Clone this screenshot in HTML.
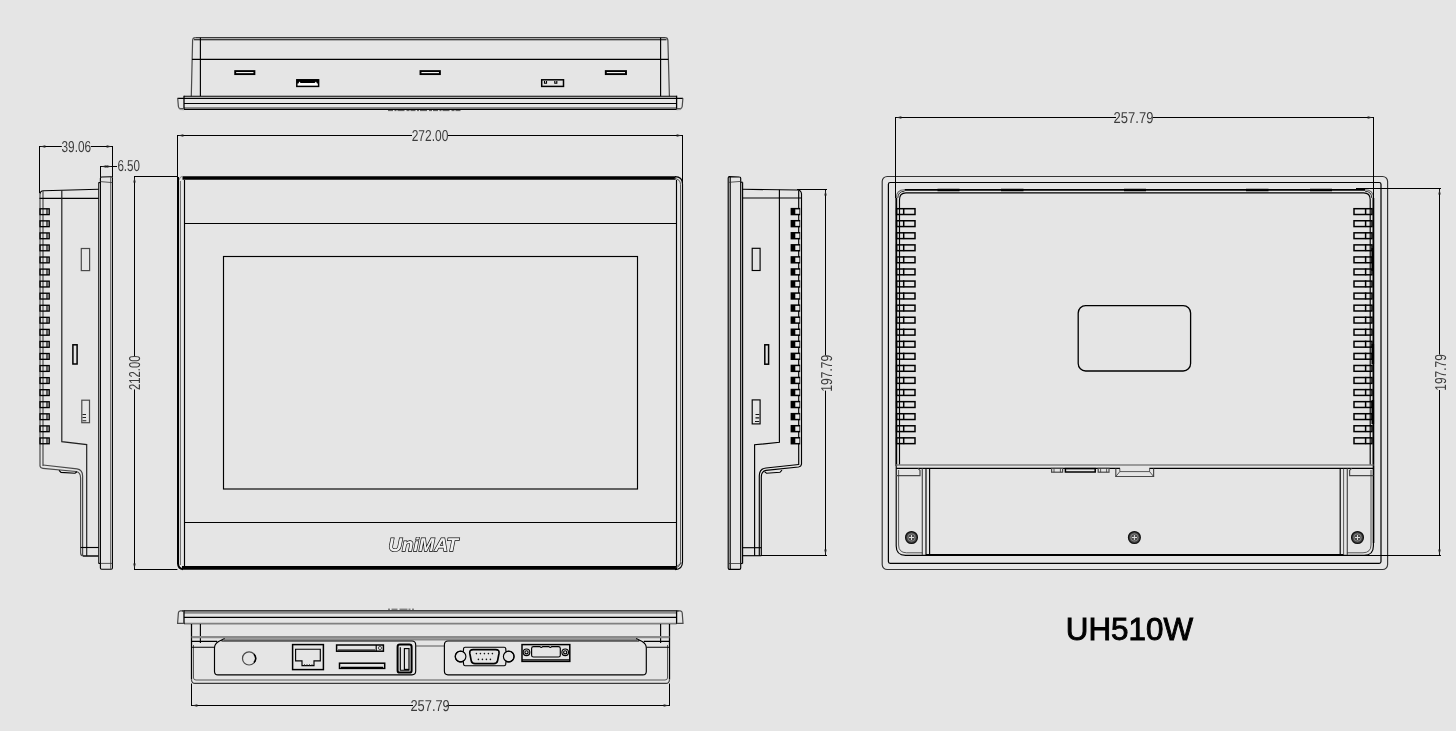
<!DOCTYPE html>
<html><head><meta charset="utf-8"><title>UH510W</title>
<style>
html,body{margin:0;padding:0;background:#e5e5e5;}
body{width:1456px;height:731px;overflow:hidden;font-family:"Liberation Sans",sans-serif;}
svg{display:block;position:absolute;left:0;top:0;will-change:transform;}
.k{stroke:#000;stroke-width:1.15;fill:none;}
.t{stroke:#333;stroke-width:0.8;fill:none;}
.g{stroke:#4a4a4a;stroke-width:1.2;fill:none;}
.b{stroke:#000;stroke-width:1.5;fill:none;}
.bb{stroke:#000;stroke-width:2;fill:none;}
.d{stroke:#000;stroke-width:1;fill:none;}
.dt{font-family:"Liberation Sans",sans-serif;font-size:15.8px;fill:#3c3c3c;text-rendering:geometricPrecision;}
.ar{fill:#222;stroke:none;}
</style></head><body>
<svg width="1456" height="731" viewBox="0 0 1456 731">
<rect x="0" y="0" width="1456" height="731" fill="#e5e5e5"/>

<g id="topview">
<path d="M191.3 96.2 L192.6 40.5 Q192.7 37.7 195.5 37.7" class="g"/><path d="M665 37.7 Q667.8 37.7 667.9 40.5 L669.4 96.2" class="g"/><line x1="195.5" y1="37.7" x2="665" y2="37.7" class="k"/>
<line x1="194" y1="39.7" x2="666.5" y2="39.7" class="k"/>
<line x1="200.4" y1="37.7" x2="200.4" y2="96.2" class="k"/>
<line x1="660.6" y1="37.7" x2="660.6" y2="96.2" class="k"/>
<line x1="192" y1="59.3" x2="668.4" y2="59.3" class="k"/>
<line x1="184" y1="96.2" x2="676.6" y2="96.2" class="k"/>
<line x1="177.5" y1="98.3" x2="683" y2="98.3" class="k"/>
<line x1="184" y1="103.45" x2="676.6" y2="103.45" class="k"/>
<line x1="184" y1="107.8" x2="676.6" y2="107.8" stroke="#8a8a8a" stroke-width="1.7"/>
<line x1="183" y1="109.3" x2="677.6" y2="109.3" class="k" style="stroke-width:1.3"/>
<line x1="184" y1="95.7" x2="184" y2="109.8" class="k" style="stroke-width:1.3"/>
<line x1="676.6" y1="95.7" x2="676.6" y2="109.8" class="k" style="stroke-width:1.3"/>
<path d="M177.7 98.3 L178.4 106.5 Q178.6 108.5 180.6 108.6 L184 108.7" class="g"/>
<path d="M682.9 98.3 L682.2 106.5 Q682 108.5 680 108.6 L676.6 108.7" class="g"/>
<path d="M179.5 109.3 L184 109.6 M681.1 109.3 L676.6 109.6" stroke="#999" stroke-width="1.2"/>
<line x1="388" y1="110.6" x2="462" y2="110.6" stroke="#444" stroke-width="0.9" stroke-dasharray="5 1.5 2 1 7 2 3 1"/>
<rect x="235.2" y="71.1" width="19.2" height="3" class="b" style="stroke-width:1.9;fill:#fff"/>
<rect x="420.5" y="71.1" width="19.4" height="3" class="b" style="stroke-width:1.9;fill:#fff"/>
<rect x="605.8" y="71.1" width="20.2" height="3" class="b" style="stroke-width:1.9;fill:#fff"/>
<rect x="296.8" y="79.8" width="21.8" height="6.6" class="b" style="fill:#fff"/>
<path d="M297 79.6 H318.4 V83.4 L317 83.4 L316 81.6 L314.6 83 L300.6 83 L299.4 81.6 L298.4 83.4 L297 83.4 Z" fill="#000"/>
<rect x="541.7" y="79.8" width="21.8" height="6.6" class="b"/>
<path d="M544.5 81 v2.2 h2 v-2.2 M554.8 81 v2.2 h2 v-2.2" class="k"/>
</g>

<g id="dim272">
<line x1="177.5" y1="135" x2="177.5" y2="177" class="d"/>
<line x1="682.5" y1="135" x2="682.5" y2="183" class="d"/>
<line x1="177.5" y1="135.5" x2="412" y2="135.5" class="d"/>
<line x1="448" y1="135.5" x2="682.5" y2="135.5" class="d"/>
<path d="M177.9 135.5 l5.5 -1.2 v2.4z" class="ar"/>
<path d="M682.1 135.5 l-5.5 -1.2 v2.4z" class="ar"/>
<text x="430" y="141.2" class="dt" text-anchor="middle" textLength="36.6" lengthAdjust="spacingAndGlyphs">272.00</text>
</g>

<g id="front">
<line x1="184.5" y1="180" x2="184.5" y2="566" class="k"/>
<line x1="184.5" y1="223.5" x2="676.5" y2="223.5" class="k"/>
<line x1="184.5" y1="522.5" x2="676.5" y2="522.5" class="k"/>
<rect x="223.5" y="256.5" width="414" height="232.5" class="k"/>
<line x1="182.5" y1="178" x2="675.5" y2="178" stroke="#000" stroke-width="3.6"/>
<path d="M178.6 180.5 L180.6 177 L183 176.3" stroke="#888" stroke-width="1" fill="none"/>
<line x1="182" y1="567.9" x2="677" y2="567.9" stroke="#000" stroke-width="3.8"/>
<path d="M178 177 L178 563.5 Q178.2 568.6 183 569.2" stroke="#000" stroke-width="2" fill="none"/>
<line x1="180.4" y1="181" x2="180.4" y2="565" stroke="#444" stroke-width="0.8"/>
<path d="M675 176.6 Q682.5 176.6 682.5 184 L682.5 562 Q682.5 569.4 675 569.6" class="k"/>
<path d="M674 178.6 Q680.5 178.8 680.5 184.5 L680.5 561.5 Q680.5 567 675.5 567.6" class="t"/>
<line x1="676.5" y1="180" x2="676.5" y2="566" class="k"/>
<path d="M676.6 566.5 L681.8 562.8" class="t"/>
<text x="423.3" y="550.8" text-anchor="middle" textLength="69.6" lengthAdjust="spacingAndGlyphs" style="font-family:'Liberation Sans',sans-serif;font-weight:bold;font-style:italic;font-size:18.6px;fill:#f0f0f0;stroke:#000;stroke-width:1.3;paint-order:stroke fill;text-rendering:geometricPrecision;">UniMAT</text>
</g>

<g id="dim212">
<line x1="134" y1="176.5" x2="177.4" y2="176.5" class="d"/>
<line x1="134" y1="569.5" x2="177.4" y2="569.5" class="d"/>
<line x1="134.5" y1="176.5" x2="134.5" y2="356.5" class="d"/>
<line x1="134.5" y1="389.4" x2="134.5" y2="569.5" class="d"/>
<path d="M134.5 176.9 l-1.2 5.5 h2.4z" class="ar"/>
<path d="M134.5 569.1 l-1.2 -5.5 h2.4z" class="ar"/>
<text transform="translate(139.7 372.8) rotate(-90)" class="dt" text-anchor="middle" textLength="34.6" lengthAdjust="spacingAndGlyphs">212.00</text>
</g>

<g id="leftside">
<!-- flange -->
<path d="M100.4 563.4 L100.4 178.2 Q100.4 177 101.6 177 L111.2 176.8 Q112.4 176.8 112.4 178 L112.4 568 Q112.4 569.2 111.2 569.2 L101.6 569.2 Q100.4 569.2 100.4 568 Z" class="k"/>
<line x1="110.5" y1="177" x2="110.5" y2="569" class="t" style="stroke:#555"/>
<line x1="100.4" y1="181.6" x2="112.4" y2="182.6" class="t"/>
<line x1="100.4" y1="563.4" x2="112.4" y2="563.4" class="t"/>
<line x1="98.6" y1="182.6" x2="98.6" y2="563.4" class="k" style="stroke:#333"/>
<line x1="98.6" y1="182.6" x2="100.4" y2="182.6" class="k"/>
<line x1="98.6" y1="563.4" x2="100.4" y2="563.4" class="k"/>
<!-- body -->
<path d="M40.0 466 L40.0 194" class="g"/>
<path d="M40.0 194 Q40.2 191 43.5 190.8 L98.6 189.2" class="k"/>
<line x1="43" y1="191" x2="43" y2="466" class="g"/>
<line x1="39.5" y1="198.3" x2="98.6" y2="198.3" class="k"/>
<path d="M61.8 190.2 L61.8 441.6 L86.7 444.6 L86.7 556" class="g" style="stroke:#222"/>
<path d="M40 466 Q40.3 468 43 468.3 L76 471.5 Q80.6 472.2 80.6 478 L80.6 553 Q80.6 556 83.6 556 L98.6 556" class="g"/>
<path d="M43 465 L77 468.8 Q82.6 469.6 82.6 476 L82.6 556" class="g"/>
<line x1="80.6" y1="547.5" x2="98.6" y2="547.5" class="k"/>
<line x1="83" y1="556" x2="98.6" y2="556" class="k"/>
<path d="M59 470.3 L61 472.4 L75 473.2 L77 471.7" class="k"/>
<!-- features -->
<rect x="81.3" y="248.5" width="8.3" height="22.1" class="g"/>
<rect x="72.9" y="344.8" width="4.2" height="19.2" class="b"/>
<rect x="81.8" y="400.2" width="7.7" height="22.5" class="g"/>
<path d="M82.5 414.5 h3.5 M82.5 417.5 h3.5 M82.5 420.8 h3.8" stroke="#222" stroke-width="1.1" fill="none"/>

<rect x="40.0" y="208.80" width="9.2" height="5.8" class="b" style="stroke-width:1.35"/>
<line x1="47.0" y1="208.80" x2="47.0" y2="214.60" class="k"/>
<rect x="40.0" y="220.86" width="9.2" height="5.8" class="b" style="stroke-width:1.35"/>
<line x1="47.0" y1="220.86" x2="47.0" y2="226.66" class="k"/>
<rect x="40.0" y="232.92" width="9.2" height="5.8" class="b" style="stroke-width:1.35"/>
<line x1="47.0" y1="232.92" x2="47.0" y2="238.72" class="k"/>
<rect x="40.0" y="244.98" width="9.2" height="5.8" class="b" style="stroke-width:1.35"/>
<line x1="47.0" y1="244.98" x2="47.0" y2="250.78" class="k"/>
<rect x="40.0" y="257.04" width="9.2" height="5.8" class="b" style="stroke-width:1.35"/>
<line x1="47.0" y1="257.04" x2="47.0" y2="262.84" class="k"/>
<rect x="40.0" y="269.10" width="9.2" height="5.8" class="b" style="stroke-width:1.35"/>
<line x1="47.0" y1="269.10" x2="47.0" y2="274.90" class="k"/>
<rect x="40.0" y="281.16" width="9.2" height="5.8" class="b" style="stroke-width:1.35"/>
<line x1="47.0" y1="281.16" x2="47.0" y2="286.96" class="k"/>
<rect x="40.0" y="293.22" width="9.2" height="5.8" class="b" style="stroke-width:1.35"/>
<line x1="47.0" y1="293.22" x2="47.0" y2="299.02" class="k"/>
<rect x="40.0" y="305.28" width="9.2" height="5.8" class="b" style="stroke-width:1.35"/>
<line x1="47.0" y1="305.28" x2="47.0" y2="311.08" class="k"/>
<rect x="40.0" y="317.34" width="9.2" height="5.8" class="b" style="stroke-width:1.35"/>
<line x1="47.0" y1="317.34" x2="47.0" y2="323.14" class="k"/>
<rect x="40.0" y="329.40" width="9.2" height="5.8" class="b" style="stroke-width:1.35"/>
<line x1="47.0" y1="329.40" x2="47.0" y2="335.20" class="k"/>
<rect x="40.0" y="341.46" width="9.2" height="5.8" class="b" style="stroke-width:1.35"/>
<line x1="47.0" y1="341.46" x2="47.0" y2="347.26" class="k"/>
<rect x="40.0" y="353.52" width="9.2" height="5.8" class="b" style="stroke-width:1.35"/>
<line x1="47.0" y1="353.52" x2="47.0" y2="359.32" class="k"/>
<rect x="40.0" y="365.58" width="9.2" height="5.8" class="b" style="stroke-width:1.35"/>
<line x1="47.0" y1="365.58" x2="47.0" y2="371.38" class="k"/>
<rect x="40.0" y="377.64" width="9.2" height="5.8" class="b" style="stroke-width:1.35"/>
<line x1="47.0" y1="377.64" x2="47.0" y2="383.44" class="k"/>
<rect x="40.0" y="389.70" width="9.2" height="5.8" class="b" style="stroke-width:1.35"/>
<line x1="47.0" y1="389.70" x2="47.0" y2="395.50" class="k"/>
<rect x="40.0" y="401.76" width="9.2" height="5.8" class="b" style="stroke-width:1.35"/>
<line x1="47.0" y1="401.76" x2="47.0" y2="407.56" class="k"/>
<rect x="40.0" y="413.82" width="9.2" height="5.8" class="b" style="stroke-width:1.35"/>
<line x1="47.0" y1="413.82" x2="47.0" y2="419.62" class="k"/>
<rect x="40.0" y="425.88" width="9.2" height="5.8" class="b" style="stroke-width:1.35"/>
<line x1="47.0" y1="425.88" x2="47.0" y2="431.68" class="k"/>
<rect x="40.0" y="437.94" width="9.2" height="5.8" class="b" style="stroke-width:1.35"/>
<line x1="47.0" y1="437.94" x2="47.0" y2="443.74" class="k"/>
</g>

<g id="dim39">
<line x1="39.5" y1="146" x2="39.5" y2="193" class="d"/>
<line x1="112.5" y1="146" x2="112.5" y2="177" class="d"/>
<line x1="39.5" y1="146.5" x2="61.8" y2="146.5" class="d"/>
<line x1="90.8" y1="146.5" x2="112.5" y2="146.5" class="d"/>
<path d="M39.9 146.5 l5.5 -1.2 v2.4z" class="ar"/>
<path d="M112.1 146.5 l-5.5 -1.2 v2.4z" class="ar"/>
<text x="76.3" y="151.9" class="dt" text-anchor="middle" textLength="29.6" lengthAdjust="spacingAndGlyphs">39.06</text>
<line x1="100.5" y1="166" x2="100.5" y2="177" class="d"/>
<line x1="100.5" y1="166.5" x2="117" y2="166.5" class="d"/>
<path d="M100.9 166.5 l5.5 -1.2 v2.4z" class="ar"/>
<path d="M112.1 166.5 l-5.5 -1.2 v2.4z" class="ar"/>
<text x="128.7" y="171.1" class="dt" text-anchor="middle" textLength="22.6" lengthAdjust="spacingAndGlyphs">6.50</text>
</g>

<g id="rightside">
<path d="M740.7 563.4 L740.7 178.2 Q740.7 177 739.5 177 L729.4 176.6 Q728.2 176.6 728.2 178 L728.2 568 Q728.2 569.4 729.4 569.4 L739.5 569.4 Q740.7 569.4 740.7 568 Z" class="k"/>
<line x1="730.2" y1="177" x2="730.2" y2="569" class="k"/>
<line x1="728.2" y1="182.4" x2="740.7" y2="181.4" class="t"/>
<line x1="728.2" y1="563.5" x2="740.7" y2="563.5" class="t"/>
<line x1="742.6" y1="182.2" x2="742.6" y2="563.5" class="k"/>
<line x1="740.7" y1="182.2" x2="742.6" y2="182.2" class="k"/>
<line x1="740.7" y1="563.5" x2="742.6" y2="563.5" class="k"/>
<path d="M742.6 189.3 L797.5 190 Q801.3 190.2 801.5 194 L801.5 464" class="k"/>
<line x1="798.7" y1="190.5" x2="798.7" y2="465" class="k"/>
<line x1="742.6" y1="198" x2="801.5" y2="198" class="k"/>
<path d="M779.4 189.8 L779.4 442.3 L754.6 444.8 L754.6 555.7" class="k"/>
<path d="M801.5 464 Q801.2 466.6 798.5 467 L766 470.4 Q761.3 471.2 761.3 477 L761.3 555.7" class="k"/>
<path d="M798.7 464.5 L766 468 Q759.3 468.8 759.3 476 L759.3 555.7" class="k"/>
<line x1="742.6" y1="547.7" x2="761.3" y2="547.7" class="k"/>
<line x1="742.6" y1="555.7" x2="761.3" y2="555.7" class="k"/>
<path d="M782 470.2 L780 472.3 L766.5 473.2 L764.5 471.6" class="k"/>
<rect x="752.2" y="248.3" width="7.9" height="22.2" class="k"/>
<rect x="764.8" y="344.8" width="3.8" height="19.4" class="b"/>
<rect x="752.2" y="399.9" width="7.9" height="24" class="k"/>
<path d="M755.5 414.5 h3.8 M755.5 417.8 h3.8 M755 421.5 h4.2" stroke="#111" stroke-width="1.2" fill="none"/>

<rect x="790.6" y="207.90" width="9.6" height="7.4" fill="#000"/>
<rect x="795.3" y="209.40" width="4.1" height="4.4" fill="#e9e9e9"/>
<rect x="790.6" y="219.96" width="9.6" height="7.4" fill="#000"/>
<rect x="795.3" y="221.46" width="4.1" height="4.4" fill="#e9e9e9"/>
<rect x="790.6" y="232.02" width="9.6" height="7.4" fill="#000"/>
<rect x="795.3" y="233.52" width="4.1" height="4.4" fill="#e9e9e9"/>
<rect x="790.6" y="244.08" width="9.6" height="7.4" fill="#000"/>
<rect x="795.3" y="245.58" width="4.1" height="4.4" fill="#e9e9e9"/>
<rect x="790.6" y="256.14" width="9.6" height="7.4" fill="#000"/>
<rect x="795.3" y="257.64" width="4.1" height="4.4" fill="#e9e9e9"/>
<rect x="790.6" y="268.20" width="9.6" height="7.4" fill="#000"/>
<rect x="795.3" y="269.70" width="4.1" height="4.4" fill="#e9e9e9"/>
<rect x="790.6" y="280.26" width="9.6" height="7.4" fill="#000"/>
<rect x="795.3" y="281.76" width="4.1" height="4.4" fill="#e9e9e9"/>
<rect x="790.6" y="292.32" width="9.6" height="7.4" fill="#000"/>
<rect x="795.3" y="293.82" width="4.1" height="4.4" fill="#e9e9e9"/>
<rect x="790.6" y="304.38" width="9.6" height="7.4" fill="#000"/>
<rect x="795.3" y="305.88" width="4.1" height="4.4" fill="#e9e9e9"/>
<rect x="790.6" y="316.44" width="9.6" height="7.4" fill="#000"/>
<rect x="795.3" y="317.94" width="4.1" height="4.4" fill="#e9e9e9"/>
<rect x="790.6" y="328.50" width="9.6" height="7.4" fill="#000"/>
<rect x="795.3" y="330.00" width="4.1" height="4.4" fill="#e9e9e9"/>
<rect x="790.6" y="340.56" width="9.6" height="7.4" fill="#000"/>
<rect x="795.3" y="342.06" width="4.1" height="4.4" fill="#e9e9e9"/>
<rect x="790.6" y="352.62" width="9.6" height="7.4" fill="#000"/>
<rect x="795.3" y="354.12" width="4.1" height="4.4" fill="#e9e9e9"/>
<rect x="790.6" y="364.68" width="9.6" height="7.4" fill="#000"/>
<rect x="795.3" y="366.18" width="4.1" height="4.4" fill="#e9e9e9"/>
<rect x="790.6" y="376.74" width="9.6" height="7.4" fill="#000"/>
<rect x="795.3" y="378.24" width="4.1" height="4.4" fill="#e9e9e9"/>
<rect x="790.6" y="388.80" width="9.6" height="7.4" fill="#000"/>
<rect x="795.3" y="390.30" width="4.1" height="4.4" fill="#e9e9e9"/>
<rect x="790.6" y="400.86" width="9.6" height="7.4" fill="#000"/>
<rect x="795.3" y="402.36" width="4.1" height="4.4" fill="#e9e9e9"/>
<rect x="790.6" y="412.92" width="9.6" height="7.4" fill="#000"/>
<rect x="795.3" y="414.42" width="4.1" height="4.4" fill="#e9e9e9"/>
<rect x="790.6" y="424.98" width="9.6" height="7.4" fill="#000"/>
<rect x="795.3" y="426.48" width="4.1" height="4.4" fill="#e9e9e9"/>
<rect x="790.6" y="437.04" width="9.6" height="7.4" fill="#000"/>
<rect x="795.3" y="438.54" width="4.1" height="4.4" fill="#e9e9e9"/>
</g>

<g id="dim197a">
<line x1="797" y1="189.5" x2="827" y2="189.5" class="d"/>
<line x1="761" y1="555.5" x2="827" y2="555.5" class="d"/>
<line x1="825.5" y1="189.5" x2="825.5" y2="355.5" class="d"/>
<line x1="825.5" y1="390.6" x2="825.5" y2="555.5" class="d"/>
<path d="M825.5 190 l-1.2 5.5 h2.4z" class="ar"/>
<path d="M825.5 555 l-1.2 -5.5 h2.4z" class="ar"/>
<text transform="translate(831.7 373.2) rotate(-90)" class="dt" text-anchor="middle" textLength="37" lengthAdjust="spacingAndGlyphs">197.79</text>
</g>

<g id="bottomview">
<line x1="182" y1="610.9" x2="678.6" y2="610.9" class="k" style="stroke-width:1.4"/>
<line x1="184" y1="612.7" x2="676.6" y2="612.7" stroke="#8a8a8a" stroke-width="2"/>
<line x1="184" y1="617.4" x2="676.6" y2="617.4" class="k"/>
<line x1="184" y1="623.7" x2="676.6" y2="623.7" stroke="#808080" stroke-width="1.8"/>
<line x1="184" y1="610.4" x2="184" y2="624" class="k" style="stroke-width:1.3"/>
<line x1="676.6" y1="610.4" x2="676.6" y2="624" class="k" style="stroke-width:1.3"/>
<path d="M184 610.8 L180.4 610.8 Q178.6 610.9 178.4 612.8 L177.6 623.4 L184 623.4" class="g"/>
<path d="M676.6 610.8 L680.2 610.8 Q682 610.9 682.2 612.8 L683 623.4 L676.6 623.4" class="g"/>
<line x1="388" y1="609.2" x2="414" y2="609.2" stroke="#444" stroke-width="0.9" stroke-dasharray="2 1.5 6 2 8 1"/>
<!-- body -->
<path d="M191.5 624 L191.5 679.5 M669.5 624 L669.5 679.5" class="k" style="stroke-width:1.25"/>
<path d="M191.5 679.5 Q191.7 683.4 195 683.4 L666 683.4 Q669.3 683.4 669.5 679.5" class="k" style="stroke:#3a3a3a;stroke-width:1.1"/>
<path d="M193.5 645 L193.5 678 Q193.6 680 196 680 L665 680 Q667.4 680 667.5 678 L667.5 645" class="t"/>
<line x1="200.4" y1="624" x2="200.4" y2="643" class="k"/>
<line x1="660.6" y1="624" x2="660.6" y2="643" class="k"/>
<line x1="191.6" y1="637.1" x2="669.4" y2="637.1" stroke="#8a8a8a" stroke-width="2.2"/>
<line x1="224" y1="639.4" x2="637" y2="639.4" stroke="#8a8a8a" stroke-width="2.4"/>
<path d="M191.6 641.4 L217.2 641.4 M191.6 647.2 L214.5 647.2" class="k"/>
<path d="M669.4 641.4 L643.8 641.4 M669.4 647.2 L646.5 647.2" class="k"/>
<!-- panel 1 -->
<path d="M224.6 638.6 L218.6 641.6 Q214.6 643.8 214.5 648 L214.5 671.4 Q214.6 674.8 218 674.8 L412 674.8 Q415.7 674.8 415.7 671 L415.7 645 Q415.7 641 412 641 L221.5 641" class="k"/>
<path d="M415.7 646 L444.4 646" class="t"/>
<!-- panel 2 -->
<path d="M636.2 638.6 L642.2 641.6 Q646.2 643.8 646.3 648 L646.3 671.4 Q646.2 674.8 642.8 674.8 L448 674.8 Q444.4 674.8 444.4 671 L444.4 645 Q444.4 641 448 641 L639.3 641" class="k"/>
<!-- circle -->
<circle cx="249.1" cy="658.4" r="6.6" class="g"/>
<path d="M254 654.2 A6.6 6.6 0 0 1 254 662.6" class="b"/>
<!-- RJ45 -->
<rect x="292.6" y="644.6" width="30.8" height="25" class="b"/>
<path d="M295.6 649.2 H320.3 V660.9 H314 V665.6 H302 V660.9 H295.6 Z" class="k"/>
<path d="M304.5 665.6 v-1.5 M307 665.6 v-1.5 M309.5 665.6 v-1.5 M312 665.6 v-1.5" class="t"/>
<!-- SD slots -->
<rect x="336.6" y="645" width="46.8" height="6.2" class="b"/>
<line x1="376.2" y1="645" x2="376.2" y2="651.2" class="k"/>
<circle cx="380" cy="648" r="1.6" class="t"/>
<line x1="338" y1="650" x2="375" y2="650" class="k"/>
<rect x="339.5" y="663.2" width="45.2" height="5.2" class="b"/>
<line x1="341" y1="667.4" x2="383" y2="667.4" class="k"/>
<!-- USB -->
<rect x="397.6" y="644.6" width="14" height="28" rx="2.2" class="bb"/>
<rect x="404.4" y="648.6" width="4.6" height="20.8" class="k"/>
<path d="M400.3 647.2 L400.3 670.2 L409.5 670.2" class="k"/>
<!-- DB9 -->
<path d="M465 647.2 L504.3 647.2 Q505.5 647.2 505.7 648.4 L506 651.8 A5.4 5.4 0 1 1 506 661.2 L505.7 664.4 Q505.5 665.7 504.3 665.7 L465 665.7 Q463.8 665.7 463.6 664.4 L463.3 661.2 A5.4 5.4 0 1 1 463.3 651.8 L463.6 648.4 Q463.8 647.2 465 647.2 Z" class="k"/>
<circle cx="460.6" cy="656.5" r="5.3" class="k"/>
<circle cx="508.7" cy="656.5" r="5.3" class="k"/>
<path d="M473.2 649.6 L495.6 649.6 Q499.6 649.6 499 653.4 L497.6 660.6 Q497 663.7 493.8 663.7 L475 663.7 Q471.8 663.7 471.2 660.6 L469.8 653.4 Q469.2 649.6 473.2 649.6 Z" class="b" style="stroke-width:1.7"/>
<g fill="#111"><circle cx="476.4" cy="653.6" r="0.8"/><circle cx="480.4" cy="653.6" r="0.8"/><circle cx="484.4" cy="653.6" r="0.8"/><circle cx="488.4" cy="653.6" r="0.8"/><circle cx="492.4" cy="653.6" r="0.8"/>
<circle cx="478.4" cy="659.4" r="0.8"/><circle cx="482.4" cy="659.4" r="0.8"/><circle cx="486.4" cy="659.4" r="0.8"/><circle cx="490.4" cy="659.4" r="0.8"/></g>
<!-- terminal -->
<rect x="522" y="644.6" width="47.8" height="16.8" class="b"/>
<line x1="522" y1="659.8" x2="569.8" y2="659.8" class="k"/>
<circle cx="526.5" cy="652.3" r="3.3" class="k"/><circle cx="526.5" cy="652.3" r="1.6" class="k"/>
<circle cx="565.2" cy="652.3" r="3.3" class="k"/><circle cx="565.2" cy="652.3" r="1.6" class="k"/>
<path d="M531.6 648.5 Q531.6 646.6 533.5 646.6 L540 646.6 Q541.2 648 542.6 646.6 L549 646.6 Q550.3 648 551.6 646.6 L558.4 646.6 Q560.3 646.6 560.3 648.5 L560.3 655.2 Q560.3 657 558.4 657 L533.5 657 Q531.6 657 531.6 655.2 Z" class="k"/>
</g>

<g id="dim257a">
<line x1="191.5" y1="683.5" x2="191.5" y2="706" class="d"/>
<line x1="669.5" y1="683.5" x2="669.5" y2="706" class="d"/>
<line x1="191.5" y1="705.5" x2="413" y2="705.5" class="d"/>
<line x1="446.5" y1="705.5" x2="669.5" y2="705.5" class="d"/>
<path d="M191.9 705.5 l5.5 -1.2 v2.4z" class="ar"/>
<path d="M669.1 705.5 l-5.5 -1.2 v2.4z" class="ar"/>
<text x="430.1" y="711" class="dt" text-anchor="middle" textLength="39.4" lengthAdjust="spacingAndGlyphs">257.79</text>
</g>

<g id="back">
<rect x="882.2" y="176.5" width="505.4" height="393" rx="5" class="k" style="stroke:#333"/>
<rect x="888.4" y="182.5" width="492.6" height="380.8" rx="1.8" class="k" style="stroke-width:1.2"/>
<!-- body outline double -->
<path d="M896.3 466 L896.3 198" class="b" style="stroke-width:1.8"/>
<path d="M904.5 189.8 L1365 189.8" class="b" style="stroke-width:1.7"/>
<path d="M1373.4 198 L1373.4 466" class="b" style="stroke-width:1.8"/>
<path d="M896.3 198 Q896.3 189.8 904.5 189.8 M1365 189.8 Q1373.4 189.8 1373.4 198" class="g" style="stroke:#666;stroke-width:1.1"/>
<path d="M897.8 198 Q898 191.4 904.5 191.2 M1365 191.2 Q1371.6 191.4 1371.8 198" class="g" style="stroke:#333;stroke-width:1"/>
<path d="M896.2 466 L896.2 546 Q896.2 555.4 905.6 555.4 L1364 555.4 Q1373.4 555.4 1373.4 546 L1373.4 466" class="k"/>
<line x1="926" y1="554.7" x2="1343.6" y2="554.7" class="b"/>
<line x1="1373.6" y1="466" x2="1373.6" y2="543" class="b"/>
<path d="M899.5 465 L899.5 199.5 Q899.5 192.9 906 192.9 L1363.6 192.9 Q1370.2 192.9 1370.2 199.5 L1370.2 465" class="k"/>
<path d="M937.5 190 h22 M1001 190 h22.5 M1124 190 h22 M1246 190 h22.5 M1310 190 h22" stroke="#000" stroke-width="2.4"/>
<!-- mid horizontal -->
<line x1="896.2" y1="465" x2="1373.4" y2="465" class="g" style="stroke-width:1.6;stroke:#808080"/>
<path d="M896.2 468.4 H1120 M1149.4 468.4 H1373.4" class="k" style="stroke-width:1.2"/>

<!-- left pillar -->
<line x1="922.3" y1="468.4" x2="922.3" y2="555" class="g"/>
<line x1="926" y1="468.4" x2="926" y2="555" class="k"/>
<line x1="929.6" y1="468.4" x2="929.6" y2="555" class="k"/>
<path d="M896.2 475.6 L920 475.6 L920 470.4 L918 468.4" class="g"/>
<path d="M898.6 470 L898.6 545 Q898.6 552.6 906.5 552.8 L922.3 552.8" class="t"/>
<!-- right pillar -->
<line x1="1347.3" y1="468.4" x2="1347.3" y2="555" class="g"/>
<line x1="1343.6" y1="468.4" x2="1343.6" y2="555" class="t"/>
<line x1="1340.2" y1="468.4" x2="1340.2" y2="555" class="k"/>
<path d="M1373.4 475.6 L1349.6 475.6 L1349.6 470.4 L1351.6 468.4" class="g"/>
<path d="M1371 470 L1371 545 Q1371 552.6 1363 552.8 L1347.3 552.8" class="t"/>
<!-- small connector bumps -->
<rect x="1051.6" y="468.4" width="11" height="3.8" class="g"/>
<line x1="1054" y1="468.4" x2="1054" y2="472.2" class="t"/><line x1="1060.4" y1="468.4" x2="1060.4" y2="472.2" class="t"/>
<rect x="1065.4" y="468.6" width="29.8" height="3.4" class="b"/>
<rect x="1098.2" y="468.4" width="10.8" height="3.8" class="g"/>
<line x1="1100.6" y1="468.4" x2="1100.6" y2="472.2" class="t"/><line x1="1106.6" y1="468.4" x2="1106.6" y2="472.2" class="t"/>
<path d="M1115.8 468.4 L1115.8 476.5 L1153.6 476.5 L1153.6 468.4" class="g"/>
<path d="M1115.8 476.5 L1119.8 471.6 L1149.6 471.6 L1153.6 476.5 M1119.8 468.4 V471.6 M1149.6 468.4 V471.6" class="t"/>
<!-- center plate -->
<rect x="1078.2" y="305.6" width="112.4" height="65.4" rx="7.4" class="k" style="stroke-width:1.3"/>
<!-- side thick bits -->
<line x1="1372.6" y1="248" x2="1372.6" y2="271" stroke="#000" stroke-width="2.4"/>
<line x1="1372.8" y1="344" x2="1372.8" y2="364" stroke="#000" stroke-width="2.6"/>
<line x1="1372.8" y1="400" x2="1372.8" y2="424" stroke="#000" stroke-width="2.6"/>

<rect x="896.6" y="208.70" width="18.4" height="5.8" class="b"/>
<line x1="903.7" y1="208.00" x2="903.7" y2="215.00" class="b"/>
<rect x="896.6" y="220.76" width="18.4" height="5.8" class="b"/>
<line x1="903.7" y1="220.06" x2="903.7" y2="227.06" class="b"/>
<rect x="896.6" y="232.82" width="18.4" height="5.8" class="b"/>
<line x1="903.7" y1="232.12" x2="903.7" y2="239.12" class="b"/>
<rect x="896.6" y="244.88" width="18.4" height="5.8" class="b"/>
<line x1="903.7" y1="244.18" x2="903.7" y2="251.18" class="b"/>
<rect x="896.6" y="256.94" width="18.4" height="5.8" class="b"/>
<line x1="903.7" y1="256.24" x2="903.7" y2="263.24" class="b"/>
<rect x="896.6" y="269.00" width="18.4" height="5.8" class="b"/>
<line x1="903.7" y1="268.30" x2="903.7" y2="275.30" class="b"/>
<rect x="896.6" y="281.06" width="18.4" height="5.8" class="b"/>
<line x1="903.7" y1="280.36" x2="903.7" y2="287.36" class="b"/>
<rect x="896.6" y="293.12" width="18.4" height="5.8" class="b"/>
<line x1="903.7" y1="292.42" x2="903.7" y2="299.42" class="b"/>
<rect x="896.6" y="305.18" width="18.4" height="5.8" class="b"/>
<line x1="903.7" y1="304.48" x2="903.7" y2="311.48" class="b"/>
<rect x="896.6" y="317.24" width="18.4" height="5.8" class="b"/>
<line x1="903.7" y1="316.54" x2="903.7" y2="323.54" class="b"/>
<rect x="896.6" y="329.30" width="18.4" height="5.8" class="b"/>
<line x1="903.7" y1="328.60" x2="903.7" y2="335.60" class="b"/>
<rect x="896.6" y="341.36" width="18.4" height="5.8" class="b"/>
<line x1="903.7" y1="340.66" x2="903.7" y2="347.66" class="b"/>
<rect x="896.6" y="353.42" width="18.4" height="5.8" class="b"/>
<line x1="903.7" y1="352.72" x2="903.7" y2="359.72" class="b"/>
<rect x="896.6" y="365.48" width="18.4" height="5.8" class="b"/>
<line x1="903.7" y1="364.78" x2="903.7" y2="371.78" class="b"/>
<rect x="896.6" y="377.54" width="18.4" height="5.8" class="b"/>
<line x1="903.7" y1="376.84" x2="903.7" y2="383.84" class="b"/>
<rect x="896.6" y="389.60" width="18.4" height="5.8" class="b"/>
<line x1="903.7" y1="388.90" x2="903.7" y2="395.90" class="b"/>
<rect x="896.6" y="401.66" width="18.4" height="5.8" class="b"/>
<line x1="903.7" y1="400.96" x2="903.7" y2="407.96" class="b"/>
<rect x="896.6" y="413.72" width="18.4" height="5.8" class="b"/>
<line x1="903.7" y1="413.02" x2="903.7" y2="420.02" class="b"/>
<rect x="896.6" y="425.78" width="18.4" height="5.8" class="b"/>
<line x1="903.7" y1="425.08" x2="903.7" y2="432.08" class="b"/>
<rect x="896.6" y="437.84" width="18.4" height="5.8" class="b"/>
<line x1="903.7" y1="437.14" x2="903.7" y2="444.14" class="b"/>
<rect x="1354.0" y="208.70" width="18.0" height="5.8" class="b"/>
<line x1="1365.6" y1="208.00" x2="1365.6" y2="215.00" class="b"/>
<rect x="1354.0" y="220.76" width="18.0" height="5.8" class="b"/>
<line x1="1365.6" y1="220.06" x2="1365.6" y2="227.06" class="b"/>
<rect x="1354.0" y="232.82" width="18.0" height="5.8" class="b"/>
<line x1="1365.6" y1="232.12" x2="1365.6" y2="239.12" class="b"/>
<rect x="1354.0" y="244.88" width="18.0" height="5.8" class="b"/>
<line x1="1365.6" y1="244.18" x2="1365.6" y2="251.18" class="b"/>
<rect x="1354.0" y="256.94" width="18.0" height="5.8" class="b"/>
<line x1="1365.6" y1="256.24" x2="1365.6" y2="263.24" class="b"/>
<rect x="1354.0" y="269.00" width="18.0" height="5.8" class="b"/>
<line x1="1365.6" y1="268.30" x2="1365.6" y2="275.30" class="b"/>
<rect x="1354.0" y="281.06" width="18.0" height="5.8" class="b"/>
<line x1="1365.6" y1="280.36" x2="1365.6" y2="287.36" class="b"/>
<rect x="1354.0" y="293.12" width="18.0" height="5.8" class="b"/>
<line x1="1365.6" y1="292.42" x2="1365.6" y2="299.42" class="b"/>
<rect x="1354.0" y="305.18" width="18.0" height="5.8" class="b"/>
<line x1="1365.6" y1="304.48" x2="1365.6" y2="311.48" class="b"/>
<rect x="1354.0" y="317.24" width="18.0" height="5.8" class="b"/>
<line x1="1365.6" y1="316.54" x2="1365.6" y2="323.54" class="b"/>
<rect x="1354.0" y="329.30" width="18.0" height="5.8" class="b"/>
<line x1="1365.6" y1="328.60" x2="1365.6" y2="335.60" class="b"/>
<rect x="1354.0" y="341.36" width="18.0" height="5.8" class="b"/>
<line x1="1365.6" y1="340.66" x2="1365.6" y2="347.66" class="b"/>
<rect x="1354.0" y="353.42" width="18.0" height="5.8" class="b"/>
<line x1="1365.6" y1="352.72" x2="1365.6" y2="359.72" class="b"/>
<rect x="1354.0" y="365.48" width="18.0" height="5.8" class="b"/>
<line x1="1365.6" y1="364.78" x2="1365.6" y2="371.78" class="b"/>
<rect x="1354.0" y="377.54" width="18.0" height="5.8" class="b"/>
<line x1="1365.6" y1="376.84" x2="1365.6" y2="383.84" class="b"/>
<rect x="1354.0" y="389.60" width="18.0" height="5.8" class="b"/>
<line x1="1365.6" y1="388.90" x2="1365.6" y2="395.90" class="b"/>
<rect x="1354.0" y="401.66" width="18.0" height="5.8" class="b"/>
<line x1="1365.6" y1="400.96" x2="1365.6" y2="407.96" class="b"/>
<rect x="1354.0" y="413.72" width="18.0" height="5.8" class="b"/>
<line x1="1365.6" y1="413.02" x2="1365.6" y2="420.02" class="b"/>
<rect x="1354.0" y="425.78" width="18.0" height="5.8" class="b"/>
<line x1="1365.6" y1="425.08" x2="1365.6" y2="432.08" class="b"/>
<rect x="1354.0" y="437.84" width="18.0" height="5.8" class="b"/>
<line x1="1365.6" y1="437.14" x2="1365.6" y2="444.14" class="b"/>
<g><circle cx="911.5" cy="537.5" r="5.9" fill="#4a4a4a" stroke="#111" stroke-width="1.3"/>
<circle cx="911.5" cy="537.5" r="3.7" fill="none" stroke="#999" stroke-width="0.7"/>
<path d="M908.9 537.5 h5.2 M911.5 534.9 v5.2" stroke="#ddd" stroke-width="1.0"/></g>
<g><circle cx="1134.4" cy="537.5" r="5.9" fill="#4a4a4a" stroke="#111" stroke-width="1.3"/>
<circle cx="1134.4" cy="537.5" r="3.7" fill="none" stroke="#999" stroke-width="0.7"/>
<path d="M1131.8000000000002 537.5 h5.2 M1134.4 534.9 v5.2" stroke="#ddd" stroke-width="1.0"/></g>
<g><circle cx="1357.5" cy="537.5" r="5.9" fill="#4a4a4a" stroke="#111" stroke-width="1.3"/>
<circle cx="1357.5" cy="537.5" r="3.7" fill="none" stroke="#999" stroke-width="0.7"/>
<path d="M1354.9 537.5 h5.2 M1357.5 534.9 v5.2" stroke="#ddd" stroke-width="1.0"/></g>
</g>

<g id="dim257b">
<line x1="895.5" y1="117" x2="895.5" y2="198" class="d"/>
<line x1="1373.5" y1="117" x2="1373.5" y2="198" class="d"/>
<line x1="895.5" y1="117.5" x2="1116" y2="117.5" class="d"/>
<line x1="1152.8" y1="117.5" x2="1373.5" y2="117.5" class="d"/>
<path d="M895.9 117.5 l5.5 -1.2 v2.4z" class="ar"/>
<path d="M1373.1 117.5 l-5.5 -1.2 v2.4z" class="ar"/>
<text x="1133.5" y="122.9" class="dt" text-anchor="middle" textLength="39.8" lengthAdjust="spacingAndGlyphs">257.79</text>
</g>
<g id="dim197b">
<line x1="1356" y1="188.5" x2="1441" y2="188.5" class="d"/>
<line x1="1364" y1="555.5" x2="1441" y2="555.5" class="d"/>
<line x1="1439.5" y1="188.5" x2="1439.5" y2="354.6" class="d"/>
<line x1="1439.5" y1="390" x2="1439.5" y2="555.5" class="d"/>
<path d="M1439.5 189 l-1.2 5.5 h2.4z" class="ar"/>
<path d="M1439.5 555 l-1.2 -5.5 h2.4z" class="ar"/>
<text transform="translate(1445.6 372.4) rotate(-90)" class="dt" text-anchor="middle" textLength="36.8" lengthAdjust="spacingAndGlyphs">197.79</text>
</g>
<text x="1129.4" y="639.6" text-anchor="middle" textLength="127.3" lengthAdjust="spacingAndGlyphs" style="font-family:'Liberation Sans',sans-serif;font-size:30.6px;fill:#000;stroke:#000;stroke-width:0.9;">UH510W</text>
</svg>
</body></html>
